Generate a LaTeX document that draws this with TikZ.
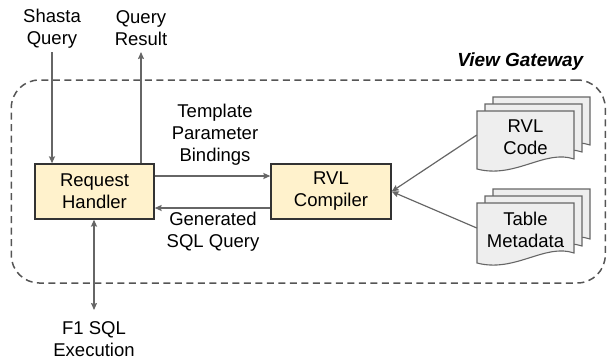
\documentclass[tikz,border=0pt]{standalone}
\usepackage{fontspec}
\setmainfont{Liberation Sans}
\usetikzlibrary{arrows.meta}
\definecolor{boxfill}{HTML}{FFF2CC}
\definecolor{boxline}{HTML}{333333}
\definecolor{arrcol}{HTML}{666666}
\definecolor{docfill}{HTML}{EEEEEE}
\definecolor{docline}{HTML}{666666}
\definecolor{framecol}{HTML}{555555}
\newcommand\docstack[5]{%
  \foreach \d in {16,8,0} {
    \pgfmathsetmacro\px{#2+\d}
    \pgfmathsetmacro\py{#3-0.875*\d}
    \draw[docpage] (\px,\py) -- ({\px+97},\py) -- ({\px+97},{\py+#4})
      .. controls ({\px+68},{\py+#4-10}) and ({\px+38},{\py+#4+20}) .. (\px,{\py+#4+10}) -- cycle;
  }
  \node[minimum width=97pt, minimum height=#4pt] (#1) at ({#2+48.5},{#3+#4/2}) {};
  \node (#1t) at ({#2+48.5},{#3+#4/2+2}) {#5};
}
\begin{document}
\begin{tikzpicture}[x=1pt,y=-1pt,
  every node/.style={font=\fontsize{18.5}{22}\selectfont, align=center, inner sep=0pt},
  box/.style={draw=boxline, fill=boxfill, line width=1.3pt, minimum height=55pt},
  conn/.style={draw=arrcol, line width=1.2pt, -{Stealth[length=7pt,width=6pt,inset=1pt]}},
  docpage/.style={draw=docline, fill=docfill, line width=1.1pt},
  gateway/.style={draw=framecol, line width=1.5pt, dash pattern=on 7pt off 4.5pt, rounded corners=28pt}
]
\useasboundingbox (0,0) rectangle (607,362);

\node[gateway, minimum width=594pt, minimum height=203pt] (vg) at (308.25,181.5) {};
\node[anchor=east, font=\fontsize{19}{22}\selectfont\bfseries\itshape] (vgl) at (583.5,62) {View Gateway};

\node[box, minimum width=119pt] (rh) at (94.5,191.5) {Request\\Handler};
\node[box, minimum width=120pt] (rc) at (331,191.5) {RVL\\Compiler};

\node (sq) at (52,28.5) {Shasta\\Query};
\node (qr) at (141,28.5) {Query\\Result};
\node (tpb) at (215,135) {Template\\Parameter\\Bindings};
\node (gsq) at (213,232) {Generated\\SQL Query};
\node (f1) at (94,339.5) {F1 SQL\\Execution};

\coordinate (sqin) at (52,52);
\coordinate (qrout) at (141,52);
\coordinate (f1end) at (94,310);

\draw[conn] (sqin) -- (sqin |- rh.north);
\draw[conn] (qrout |- rh.north) -- (qrout);
\draw[conn, {Stealth[length=7pt,width=6pt,inset=1pt]}-{Stealth[length=7pt,width=6pt,inset=1pt]}] (rh.south -| f1end) -- (f1end);

\draw[conn] ([yshift=15.5pt]rh.east) -- ([yshift=15.5pt]rc.west);
\draw[conn] ([yshift=-16.5pt]rc.west) -- ([yshift=-16.5pt]rh.east);

\docstack{code}{477}{111}{48}{RVL\\Code}
\docstack{meta}{477}{203}{50}{Table\\Metadata}

\draw[conn] (code.west) -- (rc.east);
\draw[conn] (meta.west) -- (rc.east);
\end{tikzpicture}
\end{document}
